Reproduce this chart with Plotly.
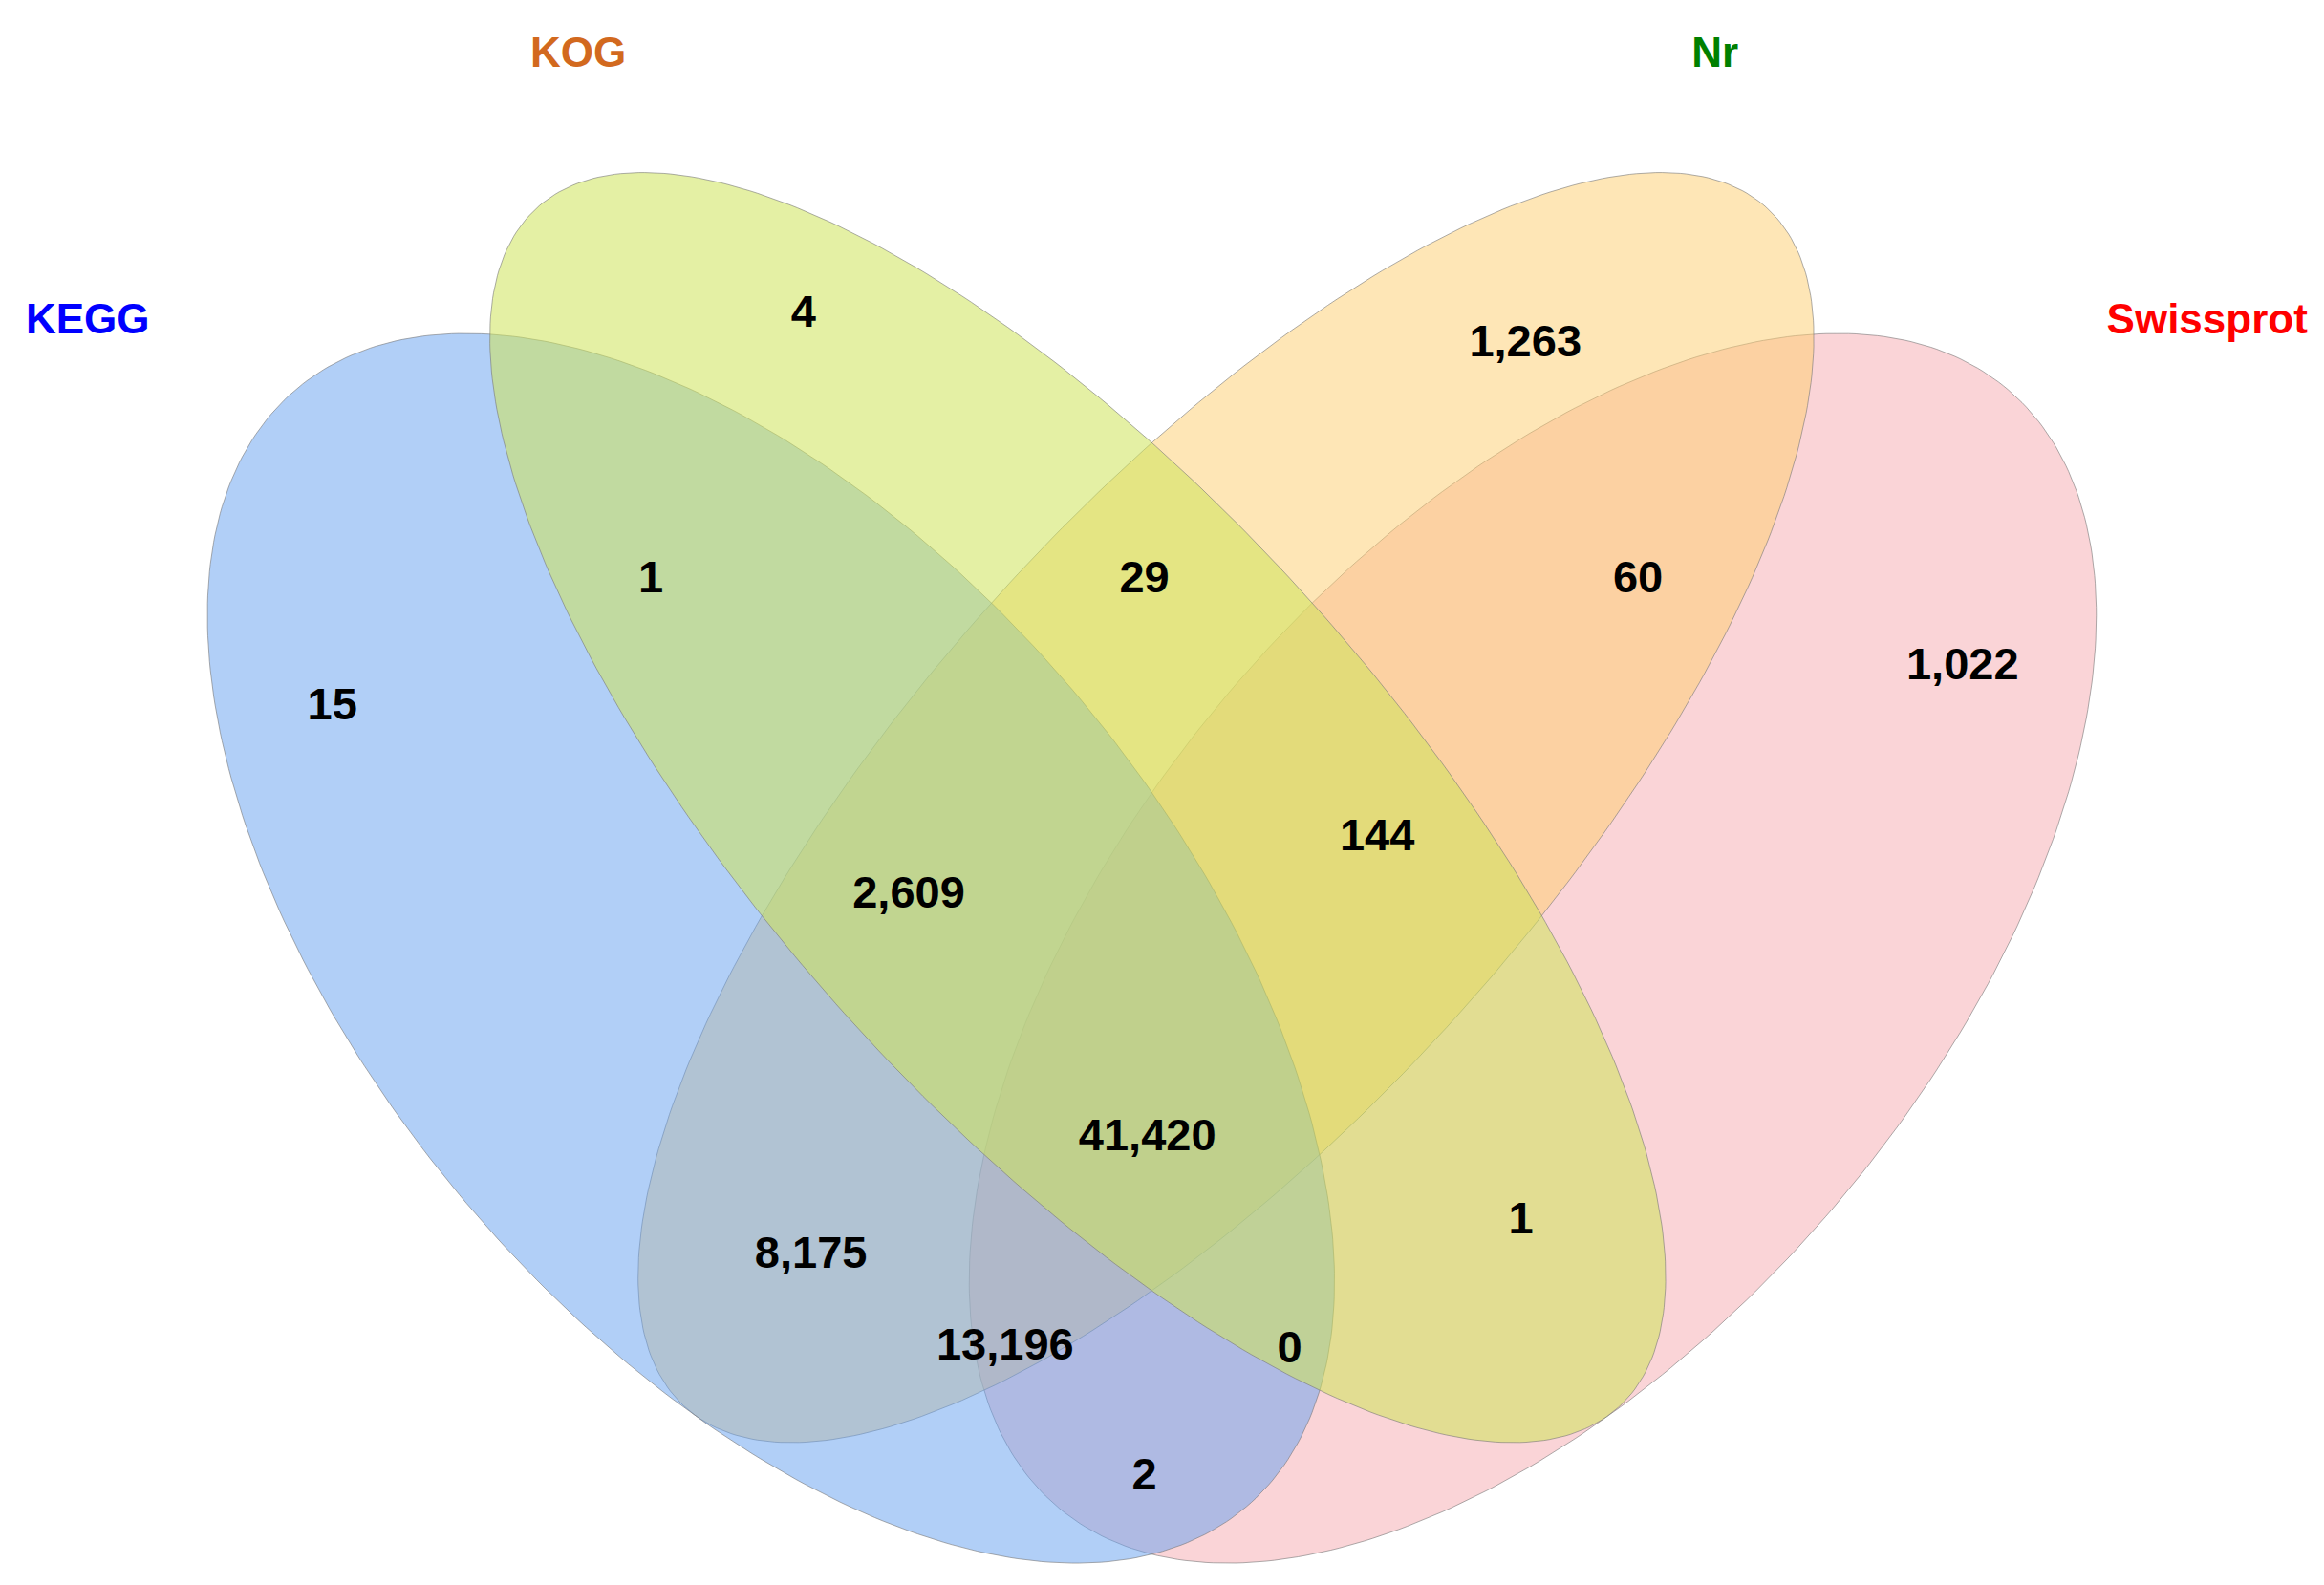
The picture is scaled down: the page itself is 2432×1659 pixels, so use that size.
import numpy as np
import plotly.graph_objects as go

sets = ["KEGG", "KOG", "Nr", "Swissprot"]
set_colors = ["#0000FF", "#D2691E", "#008000", "#FF0000"]
fills = ["rgba(100,160,240,0.5)", "rgba(205,228,90,0.55)", "rgba(253,205,110,0.5)", "rgba(245,170,175,0.5)"]
# ellipse geometry (cx, cy, a, b, angle deg) in picture units
ell_cx = [515, 722, 822, 1029]
ell_cy = [635, 540, 540, 635]
ell_a = [495, 545, 545, 495]
ell_b = [268, 210, 210, 268]
ell_ang = [49.6, 48, -48, -49.6]
draw_order = [3, 2, 0, 1]
title_x = [54, 385, 1152, 1484]
title_y = [213, 33, 33, 213]

region_counts = ["15", "4", "1,263", "1,022", "1", "29", "60", "2,609", "144", "41,420",
                 "8,175", "1", "13,196", "0", "2"]
region_x = [219, 537, 1024, 1319, 434, 767, 1100, 608, 924, 769, 542, 1021, 673, 865, 767]
region_y = [473, 208, 228, 446, 387, 387, 387, 600, 561, 764, 843, 820, 905, 907, 993]

fig = go.Figure()
t = np.linspace(0, 2 * np.pi, 400)
for i in draw_order:
    th = np.radians(ell_ang[i])
    x = ell_cx[i] + ell_a[i] * np.cos(t) * np.cos(th) - ell_b[i] * np.sin(t) * np.sin(th)
    y = ell_cy[i] + ell_a[i] * np.cos(t) * np.sin(th) + ell_b[i] * np.sin(t) * np.cos(th)
    fig.add_trace(go.Scatter(x=x, y=y, mode="lines", fill="toself", fillcolor=fills[i],
                             line=dict(color="rgba(120,120,120,0.6)", width=1), hoverinfo="skip"))

fig.add_trace(go.Scatter(x=region_x, y=region_y, mode="text", text=region_counts,
                         textfont=dict(size=47, color="black", family="Liberation Sans"),
                         texttemplate="<b>%{text}</b>", hoverinfo="skip"))
fig.add_trace(go.Scatter(x=title_x, y=title_y, mode="text", text=sets,
                         textfont=dict(size=44, color=set_colors, family="Liberation Sans"),
                         texttemplate="<b>%{text}</b>", hoverinfo="skip"))

fig.update_layout(width=2432, height=1659, showlegend=False,
                  paper_bgcolor="white", plot_bgcolor="white",
                  margin=dict(l=0, r=0, t=0, b=0),
                  xaxis=dict(range=[0, 1568], visible=False),
                  yaxis=dict(range=[1070, 0], visible=False))
fig.write_html("out.html")
